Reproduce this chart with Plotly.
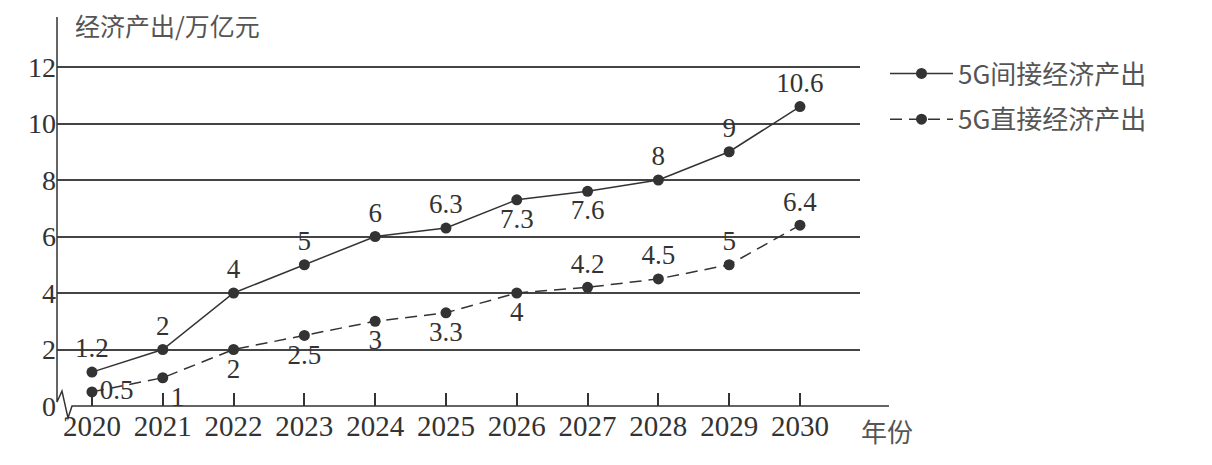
import plotly.graph_objects as go

years = [2020, 2021, 2022, 2023, 2024, 2025, 2026, 2027, 2028, 2029, 2030]
indirect = [1.2, 2, 4, 5, 6, 6.3, 7.3, 7.6, 8, 9, 10.6]
direct = [0.5, 1, 2, 2.5, 3, 3.3, 4, 4.2, 4.5, 5, 6.4]
y_ticks = [0, 2, 4, 6, 8, 10, 12]

indirect_pos = ['top center'] * 6 + ['bottom center', 'bottom center'] + ['top center'] * 3
direct_pos = ['middle right', 'bottom right'] + ['bottom center'] * 5 + ['top center'] * 4

ink = '#333333'
num_font = dict(family='Liberation Serif, Times New Roman, serif', size=27, color=ink)
cjk_font = dict(family='Noto Sans CJK SC, sans-serif', size=26, color='#555555')

fig = go.Figure()

fig.add_trace(go.Scatter(x=years, y=indirect, mode='lines+markers+text', name='5G间接经济产出',
                         legendgroup='a',
                         line=dict(color=ink, width=1.5),
                         marker=dict(color=ink, size=11),
                         text=[f'{v:g}' for v in indirect], textposition=indirect_pos,
                         textfont=num_font, cliponaxis=False))
fig.add_trace(go.Scatter(x=years, y=direct, mode='lines+markers+text', name='5G直接经济产出',
                         legendgroup='b',
                         line=dict(color=ink, width=1.5, dash='12px,7px'),
                         marker=dict(color=ink, size=11),
                         text=[f'{v:g}' for v in direct], textposition=direct_pos,
                         textfont=num_font, cliponaxis=False))

# the page puts the figure 8px in from the corner; plot area on screen: x 57..860, y 17..406
OFF = 8
W, H = 803, 389


def px(x, y):
    return (x - 57) / W, (406 - y) / H


# y axis with a break, then the x axis
pts = [px(57, 17), px(57, 402), px(62, 391), px(68, 418), px(72, 406), px(889, 406)]
path = 'M ' + ' L '.join(f'{a:.4f},{b:.4f}' for a, b in pts)

fig.update_layout(
    width=1212 - OFF, height=465 - OFF,
    margin=dict(l=57 - OFF, r=1212 - 860, t=17 - OFF, b=465 - 406),
    paper_bgcolor='white', plot_bgcolor='white',
    showlegend=True,
    legend=dict(x=px(885, 0)[0], y=px(0, 50)[1], xanchor='left', yanchor='top',
                font=dict(family='Noto Sans CJK SC, Liberation Serif', size=26, color='#555555'),
                itemwidth=63, tracegroupgap=9, bgcolor='rgba(0,0,0,0)'),
    xaxis=dict(range=[2019.506, 2030.848], tickvals=years, showgrid=False, zeroline=False,
               showline=False, ticks='inside', ticklen=13, tickwidth=1.5, tickcolor=ink,
               tickfont=dict(family='Liberation Serif, serif', size=29, color=ink)),
    yaxis=dict(range=[0, 13.77], tickvals=y_ticks, showgrid=True, gridcolor='#444444', gridwidth=1.5,
               zeroline=False, showline=False, ticks='',
               tickfont=dict(family='Liberation Serif, serif', size=28, color=ink)),
    shapes=[dict(type='path', xref='paper', yref='paper', path=path,
                 line=dict(color=ink, width=1.5))],
    annotations=[
        dict(text='经济产出/万亿元', xref='paper', yref='paper', x=px(74, 0)[0], y=px(0, 25)[1],
             xanchor='left', yanchor='middle', showarrow=False, borderpad=0,
             font=dict(family='Noto Sans CJK SC, sans-serif', size=25, color='#555555')),
        dict(text='年份', xref='paper', yref='paper', x=px(887, 0)[0], y=px(0, 430)[1],
             xanchor='center', yanchor='middle', showarrow=False, font=cjk_font),
    ],
)

fig.write_html('out.html')
